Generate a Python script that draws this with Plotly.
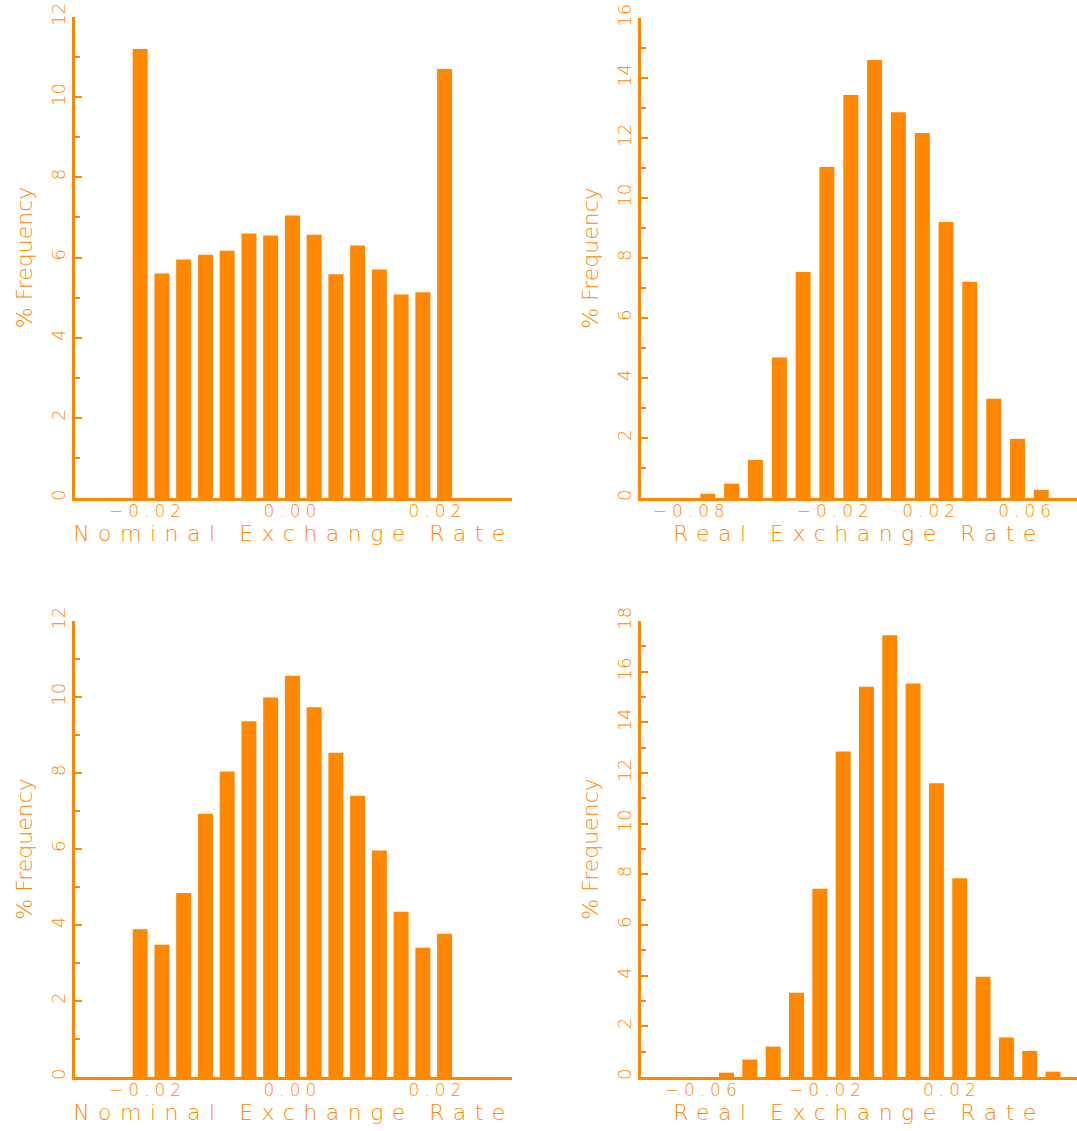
import plotly.graph_objects as go

# Histogram data: bin centres and % frequency for each panel
nominal_centres = [-0.021, -0.018, -0.015, -0.012, -0.009, -0.006, -0.003, 0.0,
                   0.003, 0.006, 0.009, 0.012, 0.015, 0.018, 0.021]
nominal_freq_top = [11.20, 5.60, 5.95, 6.07, 6.17, 6.60, 6.55, 7.05,
                    6.57, 5.58, 6.30, 5.70, 5.08, 5.13, 10.70]
nominal_freq_bottom = [3.89, 3.48, 4.84, 6.93, 8.04, 9.36, 9.99, 10.56,
                       9.73, 8.53, 7.40, 5.96, 4.35, 3.40, 3.77]

real_centres_top = [-0.0731, -0.0632, -0.0533, -0.0433, -0.0334, -0.0235, -0.0135, -0.0036,
                    0.0063, 0.0163, 0.0262, 0.0361, 0.0461, 0.0560, 0.0659]
real_freq_top = [0.14, 0.48, 1.27, 4.68, 7.53, 11.03, 13.43, 14.60,
                 12.86, 12.17, 9.20, 7.21, 3.31, 1.97, 0.27]

real_centres_bottom = [-0.0525, -0.0450, -0.0375, -0.0300, -0.0225, -0.0150, -0.0075, 0.0,
                       0.0075, 0.0150, 0.0225, 0.0300, 0.0375, 0.0450, 0.0525]
real_freq_bottom = [0.17, 0.69, 1.20, 3.33, 7.43, 12.85, 15.40, 17.44,
                    15.53, 11.60, 7.85, 3.96, 1.56, 1.03, 0.21]

# Axis tick values and labels
nominal_tickvals = [-0.02, 0.0, 0.02]
nominal_ticktext = ["\u22120.02", "0.00", "0.02"]
real_top_tickvals = [-0.08, -0.02, 0.02, 0.06]
real_top_ticktext = ["\u22120.08", "\u22120.02", "0.02", "0.06"]
real_bottom_tickvals = [-0.06, -0.02, 0.02]
real_bottom_ticktext = ["\u22120.06", "\u22120.02", "0.02"]

x_titles = ["Nominal Exchange Rate", "Real Exchange Rate",
            "Nominal Exchange Rate", "Real Exchange Rate"]
y_title = "% Frequency"

ORANGE = "#ff8800"
FONT = "DejaVu Sans"
W, H = 1077, 1131


def spaced(s, px):
    return f"<span style='letter-spacing:{px}px'>{s}</span>"


# Panel layout in pixels: (left, right, top, bottom)
boxes = [(75, 512, 17, 498), (641, 1077, 18, 498),
         (75, 512, 621, 1077), (641, 1077, 621, 1077)]

panels = [
    dict(x=nominal_centres, y=nominal_freq_top, width=0.00207, xr=[-0.030, 0.0303],
         yr=[0, 12], tv=nominal_tickvals, tt=nominal_ticktext),
    dict(x=real_centres_top, y=real_freq_top, width=0.00625, xr=[-0.101, 0.0808],
         yr=[0, 16], tv=real_top_tickvals, tt=real_top_ticktext),
    dict(x=nominal_centres, y=nominal_freq_bottom, width=0.00207, xr=[-0.030, 0.0303],
         yr=[0, 12], tv=nominal_tickvals, tt=nominal_ticktext),
    dict(x=real_centres_bottom, y=real_freq_bottom, width=0.00482, xr=[-0.080, 0.0602],
         yr=[0, 18], tv=real_bottom_tickvals, tt=real_bottom_ticktext),
]

fig = go.Figure()
layout = dict(width=W, height=H, margin=dict(l=0, r=0, t=0, b=0, autoexpand=False),
              paper_bgcolor="white", plot_bgcolor="white", showlegend=False)

for i, (p, box, xt) in enumerate(zip(panels, boxes, x_titles), start=1):
    sfx = "" if i == 1 else str(i)
    fig.add_trace(go.Bar(x=p["x"], y=p["y"], width=p["width"],
                         marker=dict(color=ORANGE, line=dict(width=0)),
                         xaxis="x" + sfx, yaxis="y" + sfx, hoverinfo="x+y"))
    l, r, t, b = box
    layout["xaxis" + sfx] = dict(
        domain=[l / W, r / W], anchor="y" + sfx, range=p["xr"], automargin=False,
        showline=True, linecolor=ORANGE, linewidth=3, showgrid=False, zeroline=False,
        ticks="", tickmode="array", tickvals=p["tv"], ticklabelstandoff=-4,
        ticktext=[spaced(s, 5) for s in p["tt"]],
        tickfont=dict(family=FONT, size=17, color=ORANGE, weight=200),
        title=dict(text=spaced(xt, 8.5), standoff=2,
                   font=dict(family=FONT, size=22, color=ORANGE, weight=200)),
    )
    layout["yaxis" + sfx] = dict(
        domain=[1 - b / H, 1 - t / H], anchor="x" + sfx, range=p["yr"], automargin=False,
        showline=True, linecolor=ORANGE, linewidth=3, showgrid=False, zeroline=False,
        ticks="inside", ticklen=7, tickwidth=2, tickcolor=ORANGE, dtick=2, tick0=0,
        tickangle=-90,
        minor=dict(ticks="inside", ticklen=5, tickwidth=2, tickcolor=ORANGE, dtick=1,
                   showgrid=False),
        tickfont=dict(family=FONT, size=18, color=ORANGE, weight=200),
        title=dict(text=y_title, standoff=10,
                   font=dict(family=FONT, size=22, color=ORANGE, weight=200)),
    )

fig.update_layout(**layout)
fig.write_html("out.html")
